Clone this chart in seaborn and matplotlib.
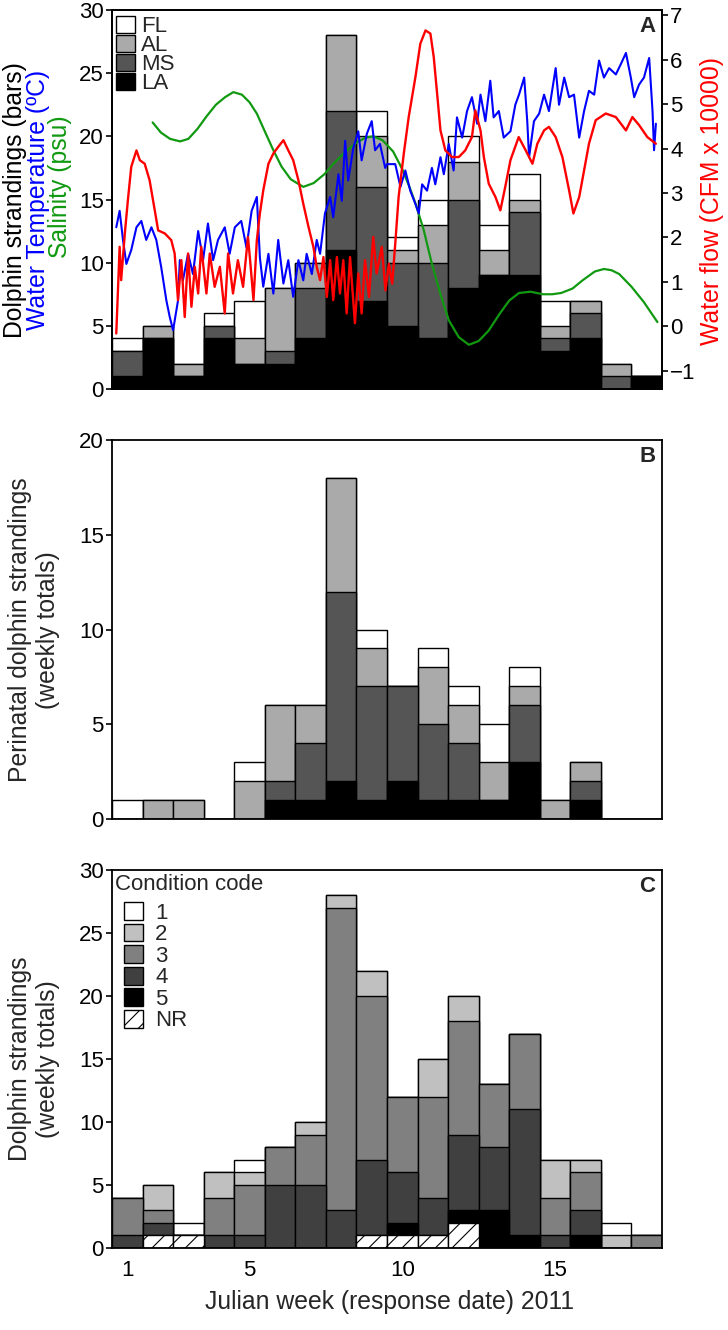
import matplotlib
matplotlib.use("Agg")
import matplotlib.pyplot as plt
from matplotlib.patches import Patch
import seaborn as sns
import numpy as np

weeks = list(range(1, 19))

# panel A - all dolphin strandings by state (bottom -> top)
a_la = [1, 4, 1, 4, 2, 2, 4, 11, 7, 5, 4, 8, 9, 9, 3, 4, 0, 1]
a_ms = [2, 0, 0, 1, 0, 1, 4, 11, 9, 5, 6, 7, 0, 5, 1, 2, 1, 0]
a_al = [0, 1, 1, 0, 2, 5, 2, 6, 4, 1, 3, 3, 2, 1, 1, 1, 1, 0]
a_fl = [1, 0, 0, 1, 3, 0, 0, 0, 2, 1, 2, 2, 2, 2, 2, 0, 0, 0]

# panel B - perinatal strandings by state
b_la = [0, 0, 0, 0, 0, 1, 1, 2, 1, 2, 1, 1, 1, 3, 0, 1, 0, 0]
b_ms = [0, 0, 0, 0, 0, 1, 3, 10, 6, 5, 4, 3, 0, 3, 0, 1, 0, 0]
b_al = [0, 1, 1, 0, 2, 4, 2, 6, 2, 0, 3, 2, 2, 1, 1, 1, 0, 0]
b_fl = [1, 0, 0, 0, 1, 0, 0, 0, 1, 0, 1, 1, 2, 1, 0, 0, 0, 0]

# panel C - strandings by condition code (NR at bottom)
c_nr = [0, 1, 1, 0, 0, 0, 0, 0, 1, 1, 1, 2, 0, 0, 0, 0, 0, 0]
c_5 = [0, 0, 0, 0, 0, 0, 0, 0, 0, 1, 0, 1, 3, 1, 0, 1, 0, 0]
c_4 = [1, 1, 0, 1, 1, 5, 5, 3, 6, 4, 3, 6, 5, 10, 1, 2, 0, 0]
c_3 = [3, 1, 0, 3, 4, 3, 4, 24, 13, 6, 8, 9, 5, 6, 3, 3, 0, 1]
c_2 = [0, 2, 0, 2, 1, 0, 1, 1, 2, 0, 3, 2, 0, 0, 3, 1, 1, 0]
c_1 = [0, 0, 1, 0, 1, 0, 0, 0, 0, 0, 0, 0, 0, 0, 0, 0, 1, 0]

# water temperature (deg C)
temp_week = [0.64, 0.75, 0.86, 0.97, 1.13, 1.30, 1.46, 1.62, 1.79, 1.95, 2.11, 2.28,
             2.39, 2.50, 2.66, 2.72, 2.82, 2.99, 3.15, 3.32, 3.48, 3.64, 3.81, 3.97,
             4.19, 4.35, 4.52, 4.73, 4.90, 5.07, 5.24, 5.34, 5.45, 5.62, 5.78, 5.94,
             6.11, 6.27, 6.43, 6.60, 6.76, 6.87, 7.04, 7.20, 7.31, 7.47, 7.64, 7.74,
             7.91, 8.02, 8.13, 8.23, 8.40, 8.56, 8.67, 8.84, 9.00, 9.11, 9.27, 9.44,
             9.50, 9.77, 9.94, 10.10, 10.26, 10.43, 10.54, 10.65, 10.81, 10.97, 11.08,
             11.25, 11.36, 11.52, 11.68, 11.79, 11.96, 12.12, 12.28, 12.45, 12.56,
             12.72, 12.88, 12.99, 13.16, 13.32, 13.54, 13.70, 13.82, 13.99, 14.09,
             14.15, 14.31, 14.48, 14.64, 14.80, 15.02, 15.13, 15.30, 15.46, 15.62,
             15.79, 15.95, 16.11, 16.28, 16.44, 16.60, 16.77, 16.99, 17.15, 17.32,
             17.48, 17.59, 17.75, 17.91, 18.08, 18.19, 18.24, 18.30]
temp_val = [12.8, 14.1, 11.8, 9.9, 11.0, 12.8, 13.3, 11.8, 12.8, 11.8, 9.65, 7.0,
            5.7, 4.66, 7.0, 10.2, 8.6, 10.7, 9.1, 12.5, 10.2, 13.1, 10.2, 11.8,
            12.8, 10.7, 12.8, 13.3, 11.2, 14.1, 15.2, 10.4, 8.1, 10.7, 7.55, 11.8,
            8.35, 10.2, 7.3, 10.2, 8.6, 10.7, 9.1, 11.8, 10.7, 13.9, 15.2, 13.6,
            17.0, 14.9, 19.65, 16.5, 19.1, 20.4, 18.1, 20.2, 21.2, 18.9, 19.4, 17.5,
            17.8, 17.8, 16.0, 17.3, 15.7, 14.65, 13.9, 16.2, 15.7, 17.5, 16.2,
            18.35, 17.0, 19.4, 17.3, 21.5, 19.9, 22.0, 23.1, 21.0, 23.3,
            21.2, 24.4, 21.5, 22.0, 19.9, 20.4, 22.5, 23.3, 24.65, 21.2,
            18.35, 21.2, 21.8, 23.3, 22.0, 25.4, 22.5, 24.65, 23.1, 23.3,
            19.9, 22.0, 23.6, 23.3, 26.0, 24.65, 25.4, 24.9, 25.7, 26.6,
            24.65, 23.1, 24.1, 24.65, 26.2, 22.0, 18.9, 21.0]

# salinity (psu)
sal_week = [1.83, 2.1, 2.4, 2.73, 3.0, 3.3, 3.6, 3.9, 4.2, 4.47, 4.75, 5.0, 5.24,
            5.5, 5.78, 6.05, 6.35, 6.76, 7.1, 7.45, 7.74, 8.1, 8.5, 8.8, 9.05, 9.35,
            9.7, 10.0, 10.25, 10.43, 10.7, 10.97, 11.25, 11.52, 11.85, 12.18, 12.5,
            12.82, 13.2, 13.5, 13.82, 14.2, 14.6, 14.91, 15.2, 15.57, 15.9, 16.3,
            16.6, 16.85, 17.1, 17.5, 17.9, 18.35]
sal_val = [21.1, 20.3, 19.8, 19.6, 19.8, 20.6, 21.6, 22.5, 23.1, 23.5, 23.3, 22.7,
           21.8, 20.4, 18.9, 17.6, 16.6, 16.0, 16.3, 17.0, 17.8, 18.7, 19.5, 19.9,
           20.0, 19.7, 18.8, 17.4, 15.9, 14.7, 12.6, 9.9, 7.5, 5.45, 4.1, 3.5, 3.8,
           4.6, 6.0, 7.0, 7.6, 7.7, 7.5, 7.5, 7.6, 7.95, 8.6, 9.3, 9.5, 9.4, 9.1,
           8.1, 6.9, 5.3]

# water flow (CFM x 10000), right axis
flow_week = [0.64, 0.75, 0.80, 0.92, 1.02, 1.13, 1.30, 1.41, 1.57, 1.73, 1.90, 2.01,
             2.23, 2.44, 2.55, 2.66, 2.77, 2.88, 2.99, 3.10, 3.21, 3.32, 3.42, 3.59,
             3.70, 3.86, 4.03, 4.19, 4.30, 4.46, 4.62, 4.79, 4.95, 5.02, 5.13, 5.24,
             5.34, 5.45, 5.62, 5.78, 5.94, 6.11, 6.27, 6.43, 6.60, 6.76, 6.93, 7.09,
             7.20, 7.31, 7.42, 7.53, 7.64, 7.74, 7.86, 7.96, 8.07, 8.18, 8.29, 8.45,
             8.56, 8.67, 8.78, 8.91, 9.05, 9.16, 9.33, 9.45, 9.56, 9.67, 9.77, 9.88,
             10.05, 10.21, 10.43, 10.59, 10.76, 10.92, 11.03, 11.14, 11.25, 11.41,
             11.63, 11.85, 12.06, 12.28, 12.39, 12.56, 12.67, 12.83, 13.05, 13.21,
             13.37, 13.54, 13.81, 14.04, 14.26, 14.42, 14.64, 14.80, 15.02, 15.24,
             15.46, 15.60, 15.79, 15.95, 16.11, 16.33, 16.66, 16.99, 17.32, 17.53,
             17.75, 18.02, 18.30]
flow_val = [-0.16, 1.79, 1.04, 2.09, 2.84, 3.59, 3.96, 3.74, 3.66, 3.29, 2.61, 2.16,
            2.09, 1.94, 1.64, 0.59, 1.49, 0.21, 1.64, 0.44, 1.34, 0.74, 1.79, 0.74,
            1.64, 0.89, 1.34, 0.29, 1.64, 0.74, 1.49, 0.89, 2.01, 1.49, 0.59, 1.94,
            2.54, 3.06, 3.66, 3.89, 4.04, 4.19, 3.96, 3.74, 3.29, 2.76, 2.24, 1.79,
            1.34, 1.04, 1.56, 0.66, 1.49, 0.59, 1.56, 0.74, 1.49, 0.29, 1.56, 0.07,
            1.19, 0.29, 1.49, 0.66, 2.01, 1.19, 1.79, 0.81, 1.41, 0.96, 1.86, 2.91,
            3.89, 4.71, 5.61, 6.36, 6.66, 6.59, 6.06, 5.24, 4.41, 3.96,
            3.81, 3.81, 3.96, 4.26, 4.86, 4.41, 3.81, 3.21, 2.91, 2.61,
            3.14, 3.74, 4.26, 3.96, 3.66, 4.11, 4.41, 4.49, 4.26, 3.81,
            3.06, 2.54, 2.91, 3.51, 4.11, 4.64, 4.79, 4.71, 4.41, 4.71,
            4.53, 4.26, 4.11]

state_labels = ["FL", "AL", "MS", "LA"]
state_colors = ["white", "#aaaaaa", "#555555", "black"]
code_labels = ["1", "2", "3", "4", "5", "NR"]
code_colors = ["white", "#c0c0c0", "#808080", "#404040", "black", "white"]
code_hatches = [None, None, None, None, None, "//"]

sns.set_style("ticks")
plt.rcParams["font.family"] = ["Liberation Sans", "DejaVu Sans"]
plt.rcParams["hatch.linewidth"] = 0.8
plt.rcParams["axes.edgecolor"] = "black"
plt.rcParams["xtick.color"] = "black"
plt.rcParams["ytick.color"] = "black"

W, H = 728, 1330
fig = plt.figure(figsize=(W / 100, H / 100), dpi=100)

TICK_FS = 16
LABEL_FS = 17.8
LEG_FS = 16


def add_panel(top, bottom):
    return fig.add_axes([112 / W, 1 - bottom / H, 550 / W, (bottom - top) / H])


def stacked(ax, layers, colors, hatches=None):
    # layers bottom -> top; draw cumulative totals from the top down
    cum = np.cumsum(np.array(layers), axis=0)
    for i in range(len(layers) - 1, -1, -1):
        kw = {}
        if hatches is not None and hatches[i]:
            kw["hatch"] = hatches[i]
        sns.barplot(x=weeks, y=cum[i], native_scale=True, width=1.0, orient="x",
                    color=colors[i], saturation=1, errorbar=None,
                    edgecolor="black", linewidth=1.0, ax=ax, **kw)


def style(ax, ymax, yticks):
    ax.set_xlim(0.5, 18.5)
    ax.set_ylim(0, ymax)
    ax.set_yticks(yticks)
    ax.set_xlabel("")
    ax.set_ylabel("")
    for s in ax.spines.values():
        s.set_visible(True)
        s.set_linewidth(1.3)
        s.set_color("black")
    ax.tick_params(axis="y", direction="out", length=4, width=1.2,
                   labelsize=TICK_FS, pad=2)
    ax.tick_params(axis="x", length=0, labelsize=TICK_FS, pad=9)


# ---- panel A ----
ax_a = add_panel(10, 389)
stacked(ax_a, [a_la, a_ms, a_al, a_fl], state_colors[::-1])
style(ax_a, 30, [0, 5, 10, 15, 20, 25, 30])
ax_a.set_xticks([])
ax_a.plot(sal_week, sal_val, color="#119911", lw=1.6, zorder=5)
ax_a.plot(temp_week, temp_val, color="#0000ff", lw=1.5, zorder=6)

ax_r = ax_a.twinx()
ax_r.plot(flow_week, flow_val, color="#ff0000", lw=1.7, zorder=4)
ax_r.set_ylim(-1.41, 7.12)
ax_r.set_yticks(range(-1, 8))
ax_r.tick_params(axis="y", direction="out", length=4, width=1.2,
                 labelsize=TICK_FS, pad=2)
for s in ax_r.spines.values():
    s.set_linewidth(1.3)
ax_a.set_xlim(0.5, 18.5)

leg_a = [Patch(facecolor=c, edgecolor="black", linewidth=1.0) for c in state_colors]
ax_r.legend(leg_a, state_labels, loc="upper left", bbox_to_anchor=(0.008, 0.985),
            frameon=False, fontsize=LEG_FS, borderpad=0, borderaxespad=0,
            handlelength=0.82, handleheight=0.82, handletextpad=0.3, labelspacing=-0.1)
ax_r.text(0.988, 0.985, "A", transform=ax_r.transAxes, ha="right", va="top",
          fontsize=16, fontweight="bold")

# ---- panel B ----
ax_b = add_panel(440, 819)
stacked(ax_b, [b_la, b_ms, b_al, b_fl], state_colors[::-1])
style(ax_b, 20, [0, 5, 10, 15, 20])
ax_b.set_xticks([])
ax_b.text(0.988, 0.985, "B", transform=ax_b.transAxes, ha="right", va="top",
          fontsize=16, fontweight="bold")

# ---- panel C ----
ax_c = add_panel(870, 1248)
stacked(ax_c, [c_nr, c_5, c_4, c_3, c_2, c_1], code_colors[::-1], code_hatches[::-1])
style(ax_c, 30, [0, 5, 10, 15, 20, 25, 30])
ax_c.set_xticks([1, 5, 10, 15])
ax_c.set_xticklabels(["1", "5", "10", "15"])
leg_c = [Patch(facecolor=c, edgecolor="black", linewidth=1.0, hatch=h)
         for c, h in zip(code_colors, code_hatches)]
ax_c.legend(leg_c, code_labels, loc="upper left", bbox_to_anchor=(0.022, 0.915),
            frameon=False, fontsize=LEG_FS, borderpad=0, borderaxespad=0,
            handlelength=0.85, handleheight=0.85, handletextpad=0.55, labelspacing=0.0)
ax_c.text(0.006, 0.99, "Condition code", transform=ax_c.transAxes, ha="left", va="top",
          fontsize=LEG_FS)
ax_c.text(0.988, 0.985, "C", transform=ax_c.transAxes, ha="right", va="top",
          fontsize=16, fontweight="bold")

# ---- axis titles ----
fig.text(15 / W, 1 - 200 / H, "Dolphin strandings (bars)", rotation=90,
         ha="center", va="center", fontsize=LABEL_FS, color="black")
fig.text(38 / W, 1 - 200 / H, "Water Temperature (ºC)", rotation=90,
         ha="center", va="center", fontsize=LABEL_FS, color="#0000ff")
fig.text(60 / W, 1 - 187 / H, "Salinity (psu)", rotation=90,
         ha="center", va="center", fontsize=LABEL_FS, color="#119911")
fig.text(712 / W, 1 - 201 / H, "Water flow (CFM x 10000)", rotation=90,
         ha="center", va="center", fontsize=LABEL_FS, color="#ff0000")

fig.text(20 / W, 1 - 630 / H, "Perinatal dolphin strandings", rotation=90,
         ha="center", va="center", fontsize=LABEL_FS)
fig.text(48 / W, 1 - 630 / H, "(weekly totals)", rotation=90,
         ha="center", va="center", fontsize=LABEL_FS)
fig.text(20 / W, 1 - 1059 / H, "Dolphin strandings", rotation=90,
         ha="center", va="center", fontsize=LABEL_FS)
fig.text(48 / W, 1 - 1059 / H, "(weekly totals)", rotation=90,
         ha="center", va="center", fontsize=LABEL_FS)

fig.text(390 / W, 1 - 1302 / H, "Julian week (response date) 2011",
         ha="center", va="center", fontsize=LABEL_FS)

fig.savefig("out.png", dpi=100)
